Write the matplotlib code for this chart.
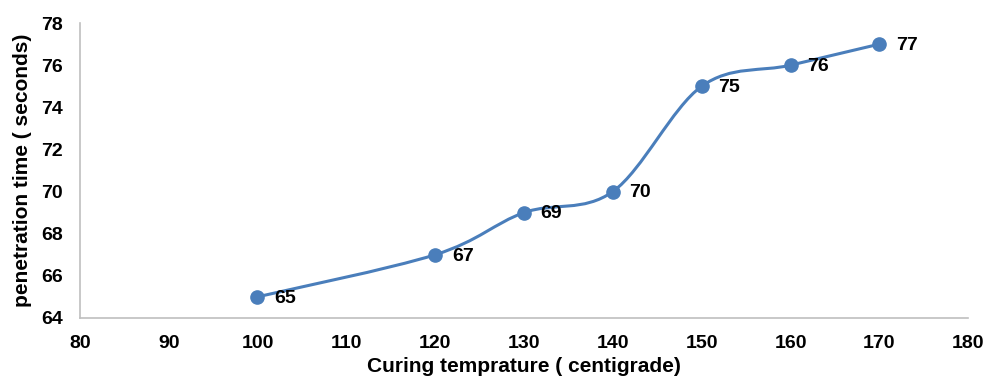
import numpy as np
import matplotlib
matplotlib.use("Agg")
import matplotlib.pyplot as plt
from matplotlib.path import Path
from matplotlib.patches import PathPatch

temps = [100, 120, 130, 140, 150, 160, 170]
times = [65, 67, 69, 70, 75, 76, 77]
xticks = [80, 90, 100, 110, 120, 130, 140, 150, 160, 170, 180]
yticks = [64, 66, 68, 70, 72, 74, 76, 78]

blue = "#4a7ebb"
plt.rcParams['font.family'] = ['Liberation Sans', 'DejaVu Sans']
plt.rcParams['font.weight'] = 'bold'

fig = plt.figure(figsize=(9.85, 3.78), dpi=100)
ax = fig.add_axes([0.081, 0.159, 0.902, 0.780])

# smoothed line like Excel: catmull-rom segments as cubic beziers
x = np.array(temps, float)
y = np.array(times, float)
verts = [(x[0], y[0])]
codes = [Path.MOVETO]
t = 1 / 6
for i in range(len(x) - 1):
    p0 = (x[i - 1], y[i - 1]) if i > 0 else (x[i], y[i])
    p3 = (x[i + 2], y[i + 2]) if i + 2 < len(x) else (x[i + 1], y[i + 1])
    c1 = (x[i] + (x[i + 1] - p0[0]) * t, y[i] + (y[i + 1] - p0[1]) * t)
    c2 = (x[i + 1] - (p3[0] - x[i]) * t, y[i + 1] - (p3[1] - y[i]) * t)
    verts += [c1, c2, (x[i + 1], y[i + 1])]
    codes += [Path.CURVE4] * 3
ax.add_patch(PathPatch(Path(verts, codes), fill=False, edgecolor=blue, lw=2.2, zorder=2))
ax.plot(temps, times, 'o', color=blue, markersize=9.5, zorder=3)

for xv, yv in zip(temps, times):
    ax.annotate(str(yv), (xv, yv), xytext=(12, -1), textcoords='offset points',
                ha='left', va='center', fontsize=14, fontweight='bold', color='black')

ax.set_xlim(80, 180)
ax.set_ylim(64, 78)
ax.set_xticks(xticks)
ax.set_yticks(yticks)
ax.tick_params(length=0, labelsize=14, pad=12)
for s in ['top', 'right']:
    ax.spines[s].set_visible(False)
for s in ['left', 'bottom']:
    ax.spines[s].set_color('#bfbfbf')
    ax.spines[s].set_linewidth(1.2)

ax.set_xlabel("Curing temprature ( centigrade)", fontsize=15, fontweight='bold', labelpad=4)
ax.set_ylabel("penetration time ( seconds)", fontsize=15, fontweight='bold', labelpad=7)

fig.savefig("out.png", dpi=100)
